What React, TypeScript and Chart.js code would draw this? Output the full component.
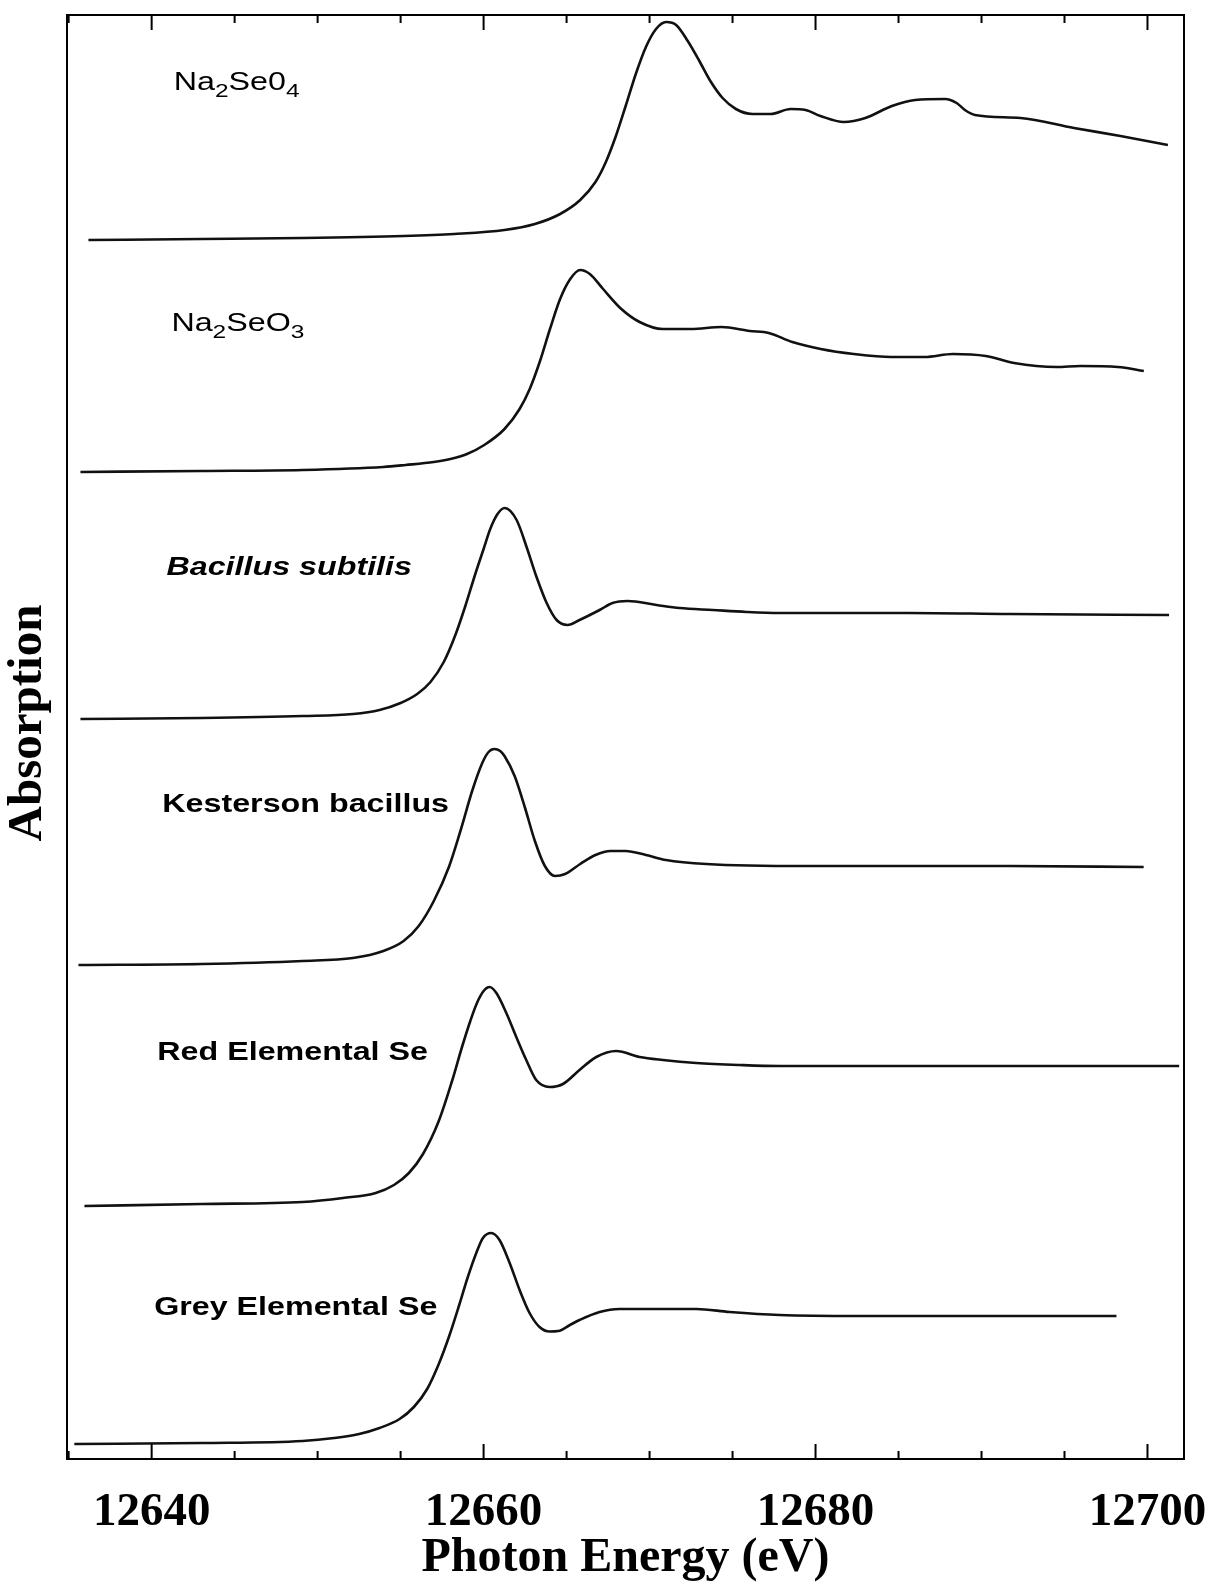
import React, { useEffect, useRef } from 'react';
import { Chart, registerables } from 'chart.js';

Chart.register(...registerables);

// ---------------- data (photon energy in eV, absorption in arbitrary, offset units) ----------------
const na2seo4E = [12636.19, 12643.01, 12649.09, 12655.18, 12658.22, 12661.26, 12663.09, 12664.61, 12665.82, 12666.74, 12667.34, 12667.95, 12668.56, 12669.17, 12669.78, 12670.39, 12671.0, 12671.6, 12672.3, 12673.0, 12673.7, 12674.4, 12675.2, 12676.2, 12677.3, 12678.5, 12679.4, 12680.3, 12681.7, 12683.0, 12684.6, 12686.0, 12687.8, 12688.5, 12689.0, 12689.6, 12692.35, 12695.57, 12698.37, 12701.23];
const na2seo4A = [12.19, 12.2, 12.21, 12.23, 12.25, 12.29, 12.35, 12.45, 12.59, 12.77, 12.96, 13.22, 13.53, 13.85, 14.12, 14.3, 14.37, 14.34, 14.18, 13.98, 13.77, 13.61, 13.5, 13.45, 13.45, 13.5, 13.49, 13.43, 13.37, 13.41, 13.53, 13.59, 13.6, 13.56, 13.49, 13.44, 13.41, 13.31, 13.23, 13.14];

const na2seo3E = [12635.71, 12643.01, 12649.09, 12653.96, 12655.3, 12657.0, 12658.0, 12659.0, 12660.04, 12661.26, 12662.17, 12662.78, 12663.4, 12664.0, 12664.61, 12665.22, 12665.82, 12666.4, 12667.2, 12668.3, 12669.4, 12670.8, 12672.5, 12674.34, 12676.04, 12677.18, 12678.6, 12680.31, 12682.3, 12684.57, 12686.57, 12688.27, 12690.26, 12691.96, 12694.52, 12695.95, 12698.22, 12699.78];
const na2seo3A = [9.87, 9.88, 9.89, 9.92, 9.94, 9.97, 10.0, 10.05, 10.14, 10.3, 10.5, 10.7, 10.98, 11.3, 11.6, 11.8, 11.89, 11.85, 11.7, 11.5, 11.37, 11.3, 11.3, 11.32, 11.28, 11.26, 11.17, 11.1, 11.05, 11.02, 11.02, 11.05, 11.03, 10.96, 10.92, 10.93, 10.92, 10.88];

const subtilisE = [12635.71, 12643.01, 12649.1, 12652.14, 12653.73, 12655.0, 12656.0, 12656.8, 12657.6, 12658.3, 12658.9, 12659.5, 12660.0, 12660.4, 12660.84, 12661.27, 12661.99, 12662.59, 12663.19, 12663.8, 12664.4, 12665.06, 12665.78, 12666.99, 12667.77, 12668.67, 12670.42, 12671.81, 12673.8, 12675.84, 12677.83, 12685.6, 12691.69, 12701.3];
const subtilisA = [7.4, 7.41, 7.43, 7.45, 7.49, 7.56, 7.65, 7.77, 7.97, 8.24, 8.53, 8.85, 9.1, 9.3, 9.45, 9.51, 9.39, 9.12, 8.82, 8.56, 8.39, 8.34, 8.39, 8.49, 8.56, 8.58, 8.54, 8.51, 8.49, 8.47, 8.46, 8.46, 8.45, 8.44];

const kestersonE = [12635.59, 12643.01, 12649.09, 12652.13, 12653.96, 12655.18, 12656.09, 12657.0, 12657.91, 12658.64, 12659.31, 12659.92, 12660.3, 12660.65, 12661.0, 12661.26, 12661.87, 12662.48, 12663.09, 12663.69, 12664.3, 12664.91, 12665.82, 12666.74, 12667.65, 12668.56, 12669.78, 12670.99, 12673.43, 12679.51, 12685.6, 12691.68, 12699.77];
const kestersonA = [4.94, 4.95, 4.98, 5.01, 5.08, 5.18, 5.33, 5.58, 5.92, 6.3, 6.68, 6.96, 7.07, 7.1, 7.08, 7.03, 6.83, 6.52, 6.18, 5.93, 5.83, 5.85, 5.95, 6.04, 6.08, 6.08, 6.04, 5.99, 5.95, 5.93, 5.93, 5.93, 5.92];

const redSeE = [12635.95, 12643.01, 12649.1, 12651.53, 12653.5, 12654.6, 12655.5, 12656.35, 12657.3, 12658.1, 12658.7, 12659.2, 12659.6, 12660.0, 12660.36, 12660.77, 12661.37, 12661.97, 12662.57, 12663.17, 12663.98, 12664.78, 12665.78, 12666.79, 12667.99, 12669.4, 12670.8, 12672.81, 12675.42, 12677.83, 12690.0, 12701.91];
const redSeA = [2.53, 2.55, 2.57, 2.61, 2.66, 2.74, 2.86, 3.05, 3.38, 3.78, 4.12, 4.38, 4.56, 4.68, 4.72, 4.66, 4.46, 4.22, 3.99, 3.79, 3.72, 3.75, 3.89, 4.02, 4.08, 4.02, 3.99, 3.96, 3.94, 3.93, 3.93, 3.93];

const greySeE = [12635.34, 12643.01, 12649.1, 12651.0, 12652.5, 12653.73, 12654.94, 12655.8, 12656.6, 12657.3, 12657.95, 12658.55, 12659.05, 12659.56, 12659.96, 12660.46, 12660.96, 12661.57, 12662.17, 12662.77, 12663.37, 12663.98, 12664.5, 12665.2, 12665.78, 12666.99, 12668.19, 12670.8, 12672.81, 12674.82, 12677.83, 12682.56, 12688.64, 12698.13];
const greySeA = [0.15, 0.16, 0.18, 0.21, 0.25, 0.31, 0.4, 0.52, 0.7, 0.95, 1.24, 1.55, 1.82, 2.06, 2.21, 2.26, 2.19, 1.96, 1.69, 1.46, 1.32, 1.275, 1.28, 1.34, 1.39, 1.47, 1.5, 1.5, 1.5, 1.47, 1.44, 1.43, 1.43, 1.43];

const seriesNames = ['Na2Se04', 'Na2SeO3', 'Bacillus subtilis', 'Kesterson bacillus', 'Red Elemental Se', 'Grey Elemental Se'];
const seriesE = [na2seo4E, na2seo3E, subtilisE, kestersonE, redSeE, greySeE];
const seriesA = [na2seo4A, na2seo3A, subtilisA, kestersonA, redSeA, greySeA];

// curve labels: text segments (sub = subscript) and their anchor in data coordinates
type Seg = { t: string; sub?: boolean };
const labelSegments: Seg[][] = [
  [{ t: 'Na' }, { t: '2', sub: true }, { t: 'Se0' }, { t: '4', sub: true }],
  [{ t: 'Na' }, { t: '2', sub: true }, { t: 'SeO' }, { t: '3', sub: true }],
  [{ t: 'Bacillus subtilis' }],
  [{ t: 'Kesterson bacillus' }],
  [{ t: 'Red Elemental Se' }],
  [{ t: 'Grey Elemental Se' }],
];
const labelE = [12641.33, 12641.19, 12640.89, 12640.64, 12640.34, 12640.15];
const labelA = [13.69, 11.28, 8.84, 6.47, 3.99, 1.44];

const xAxisTitle = 'Photon Energy (eV)';
const yAxisTitle = 'Absorption';
const X_MIN = 12634.9;
const X_MAX = 12702.2;
const Y_MIN = 0;
const Y_MAX = 14.44;
const MAJOR_STEP = 20;
const MINOR_STEP = 5;

// ---------------- styles ----------------
const SERIF = '"Liberation Serif", "Times New Roman", Times, serif';
const SANS = '"Liberation Sans", Arial, Helvetica, sans-serif';
const labelStyle = [
  { weight: 'normal', italic: false },
  { weight: 'normal', italic: false },
  { weight: 'bold', italic: true },
  { weight: 'bold', italic: false },
  { weight: 'bold', italic: false },
  { weight: 'bold', italic: false },
];
const LABEL_SIZE = 25;
const SUB_SIZE = 19;
const SUB_DROP = 7;
const LABEL_STRETCH = 1.29;

const decorPlugin = {
  id: 'decor',
  afterDatasetsDraw(chart: any) {
    const { ctx, chartArea: ca, scales } = chart;
    const xs = scales.x;
    const ys = scales.y;
    ctx.save();
    // frame
    ctx.strokeStyle = '#000';
    ctx.lineWidth = 2;
    ctx.strokeRect(ca.left, ca.top, ca.right - ca.left, ca.bottom - ca.top);
    // inward ticks, bottom and top
    for (const t of xs.ticks) {
      const v = t.value;
      if (v <= X_MIN + 0.01 || v >= X_MAX - 0.01) continue;
      const rem = Math.abs(v % MAJOR_STEP);
      const major = rem < 1e-6 || Math.abs(rem - MAJOR_STEP) < 1e-6;
      const len = major ? 15 : 8;
      const px = xs.getPixelForValue(v);
      ctx.beginPath();
      ctx.moveTo(px, ca.bottom);
      ctx.lineTo(px, ca.bottom - len);
      ctx.moveTo(px, ca.top);
      ctx.lineTo(px, ca.top + len);
      ctx.stroke();
    }
    // curve labels
    ctx.fillStyle = '#000';
    ctx.textAlign = 'left';
    ctx.textBaseline = 'alphabetic';
    labelSegments.forEach((segs, i) => {
      const st = labelStyle[i];
      const x0 = xs.getPixelForValue(labelE[i]);
      const y0 = ys.getPixelForValue(labelA[i]);
      ctx.save();
      ctx.translate(x0, y0);
      ctx.scale(LABEL_STRETCH, 1);
      let cx = 0;
      for (const s of segs) {
        const size = s.sub ? SUB_SIZE : LABEL_SIZE;
        ctx.font = `${st.italic ? 'italic ' : ''}${st.weight} ${size}px ${SANS}`;
        ctx.fillText(s.t, cx, s.sub ? SUB_DROP : 0);
        cx += ctx.measureText(s.t).width;
      }
      ctx.restore();
    });
    // y axis title
    ctx.save();
    ctx.translate(28, 723);
    ctx.rotate(-Math.PI / 2);
    ctx.font = `bold 49px ${SERIF}`;
    ctx.textAlign = 'center';
    ctx.textBaseline = 'middle';
    ctx.fillText(yAxisTitle, 0, 0);
    ctx.restore();
    ctx.restore();
  },
};

export default function App() {
  const canvasRef = useRef<HTMLCanvasElement | null>(null);

  useEffect(() => {
    const canvas = canvasRef.current;
    if (!canvas) return;
    const datasets = seriesNames.map((name, i) => ({
      label: name,
      data: seriesE[i].map((e, k) => ({ x: e, y: seriesA[i][k] })),
      borderColor: '#111',
      borderWidth: 2.6,
      pointRadius: 0,
      fill: false,
      cubicInterpolationMode: 'monotone' as const,
    }));
    const chart = new Chart(canvas, {
      type: 'line',
      data: { datasets },
      plugins: [decorPlugin],
      options: {
        responsive: false,
        animation: false,
        parsing: false,
        layout: { padding: { top: 15, right: 31, left: 0, bottom: 0 } },
        plugins: { legend: { display: false }, tooltip: { enabled: false } },
        scales: {
          x: {
            type: 'linear',
            position: 'bottom',
            min: X_MIN,
            max: X_MAX,
            afterFit: (s: any) => {
              s.height = 124;
              s.paddingLeft = 0;
              s.paddingRight = 0;
            },
            grid: { display: false, drawTicks: false },
            border: { display: false },
            ticks: {
              stepSize: MINOR_STEP,
              maxTicksLimit: 100,
              includeBounds: false,
              autoSkip: false,
              maxRotation: 0,
              minRotation: 0,
              padding: 30,
              color: '#000',
              font: { family: SERIF, size: 47, weight: 'bold', lineHeight: 1 },
              callback: (v: any) => {
                const n = Number(v);
                return Math.abs(n % MAJOR_STEP) < 1e-6 ? String(Math.round(n)) : '';
              },
            },
            title: {
              display: true,
              text: xAxisTitle,
              color: '#000',
              font: { family: SERIF, size: 48, weight: 'bold', lineHeight: 1 },
              padding: { top: 0, bottom: 0 },
            },
          },
          y: {
            type: 'linear',
            min: Y_MIN,
            max: Y_MAX,
            afterFit: (s: any) => {
              s.width = 67;
            },
            grid: { display: false, drawTicks: false },
            border: { display: false },
            ticks: { display: false },
            title: { display: false, text: yAxisTitle },
          },
        },
      },
    });
    return () => chart.destroy();
  }, []);

  return (
    <div style={{ position: 'absolute', left: 0, top: 0, width: 1215, height: 1583, background: '#fff' }}>
      <canvas ref={canvasRef} width={1215} height={1583} style={{ display: 'block', width: 1215, height: 1583 }} />
    </div>
  );
}
